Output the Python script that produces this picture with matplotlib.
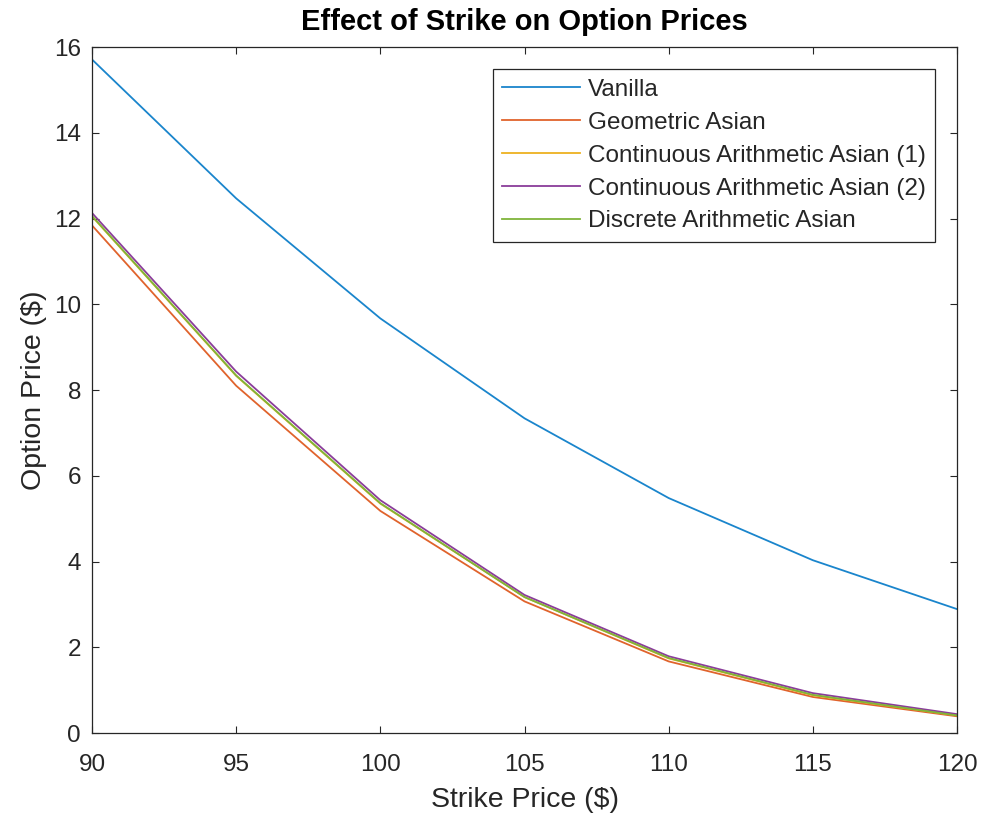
import matplotlib
matplotlib.use("Agg")
import matplotlib.pyplot as plt

strikes = [90, 95, 100, 105, 110, 115, 120]
vanilla = [15.71, 12.47, 9.67, 7.34, 5.48, 4.03, 2.89]
geometric = [11.84, 8.10, 5.18, 3.07, 1.67, 0.84, 0.39]
cont_arith_1 = [12.05, 8.33, 5.35, 3.17, 1.74, 0.88, 0.41]
cont_arith_2 = [12.13, 8.43, 5.43, 3.22, 1.79, 0.93, 0.44]
discrete_arith = [12.06, 8.34, 5.36, 3.17, 1.75, 0.89, 0.41]

labels = ["Vanilla", "Geometric Asian", "Continuous Arithmetic Asian (1)",
          "Continuous Arithmetic Asian (2)", "Discrete Arithmetic Asian"]
series = [vanilla, geometric, cont_arith_1, cont_arith_2, discrete_arith]
colors = ["#1a85cc", "#e0632c", "#EDB120", "#8a3d9a", "#7fb43a"]

plt.rcParams['font.family'] = ['Liberation Sans', 'DejaVu Sans']
txt = "#262626"

fig = plt.figure(figsize=(9.84, 8.18), dpi=100)
ax = fig.add_axes([0.0935, 0.1039, 0.8791, 0.8386])

for ys, lab, c in zip(series, labels, colors):
    ax.plot(strikes, ys, color=c, lw=1.3, label=lab)

ax.set_xlim(90, 120)
ax.set_ylim(0, 16)
ax.set_xticks(range(90, 121, 5))
ax.set_yticks(range(0, 17, 2))
ax.tick_params(direction='in', top=True, right=True, labelsize=17.5, colors=txt, length=5, width=0.8)
ax.tick_params(axis='x', pad=15)
ax.tick_params(axis='y', pad=8)
for s in ax.spines.values():
    s.set_color(txt)
    s.set_linewidth(0.9)

ax.set_xlabel("Strike Price ($)", fontsize=20.5, color=txt, labelpad=8)
ax.set_ylabel("Option Price ($)", fontsize=20.5, color=txt, labelpad=5)
ax.set_title("Effect of Strike on Option Prices", fontsize=21, fontweight='bold', color='black', pad=12)

leg = ax.legend(loc='upper right', fontsize=17.5, frameon=True, fancybox=False,
                edgecolor=txt, framealpha=1, borderaxespad=0.9, handlelength=3.2,
                labelspacing=0.45, borderpad=0.4, handletextpad=0.3)
leg.get_frame().set_linewidth(0.9)
for t in leg.get_texts():
    t.set_color(txt)

fig.savefig("out.png", dpi=100)
